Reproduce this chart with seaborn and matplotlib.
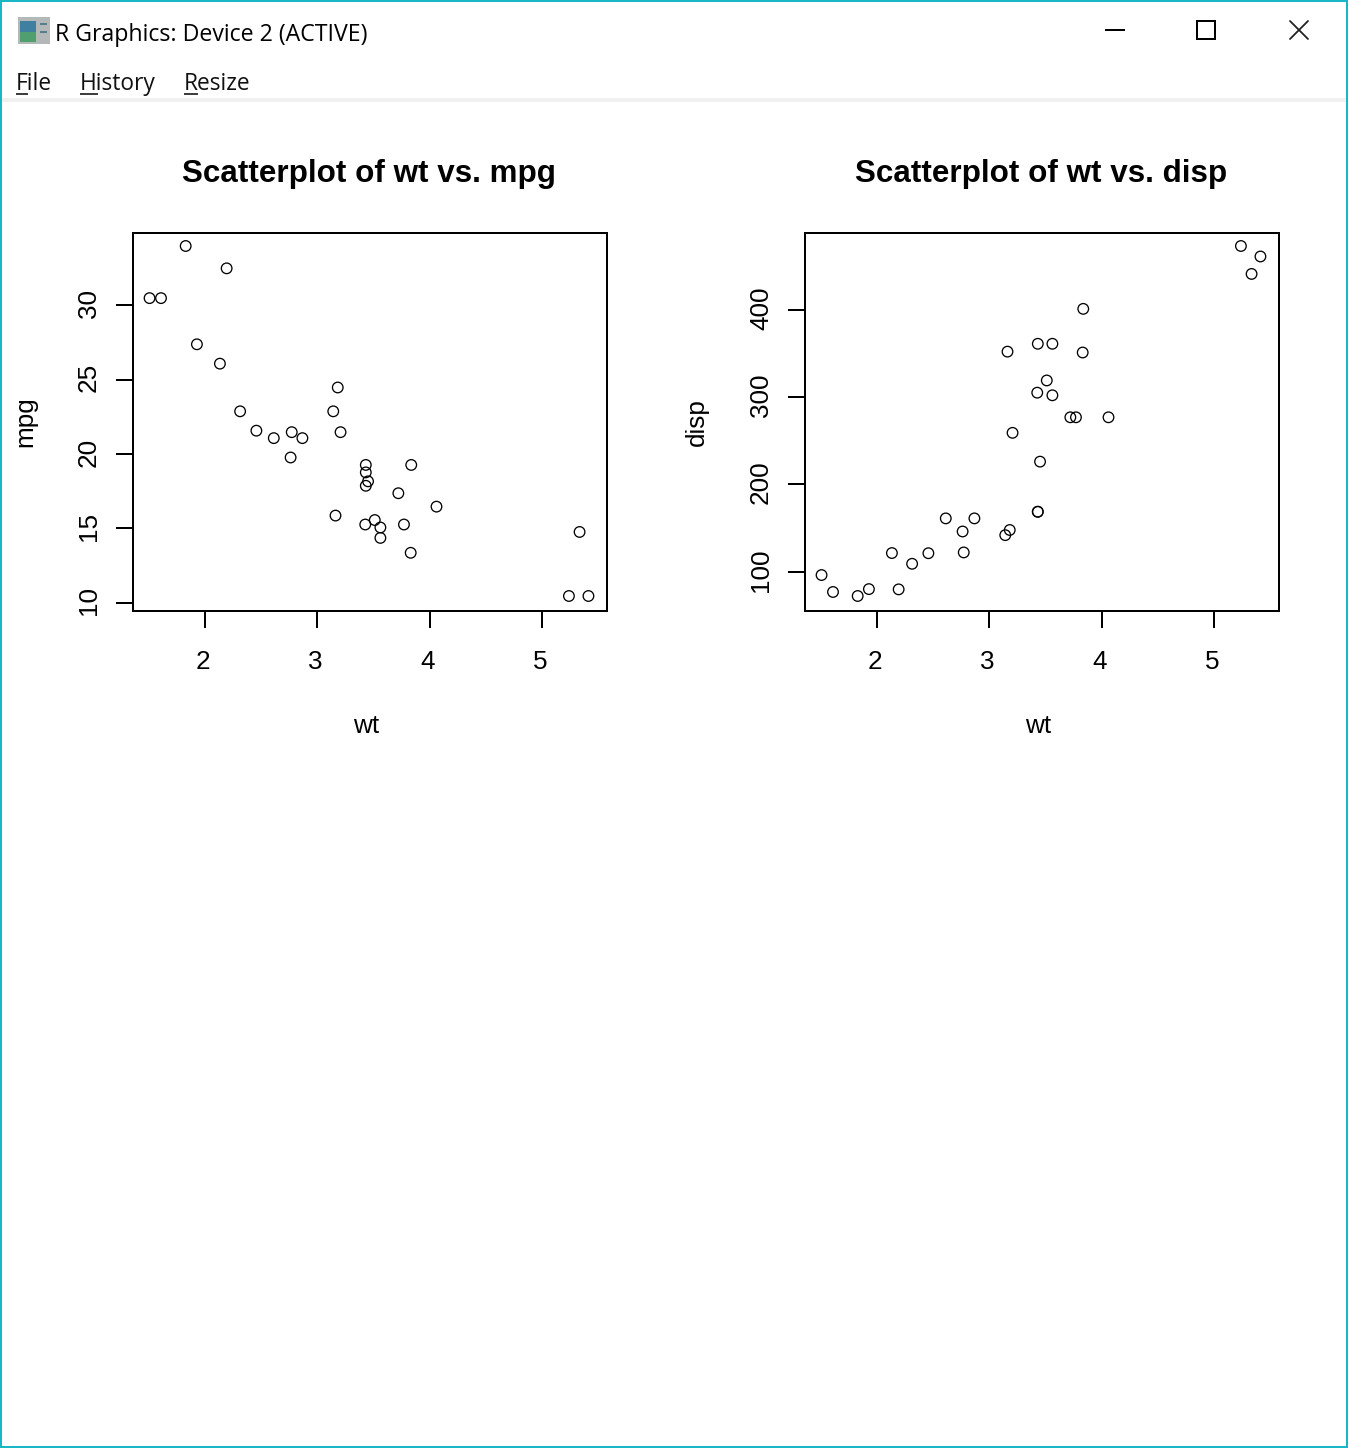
import matplotlib
matplotlib.use('Agg')
import matplotlib.pyplot as plt
from matplotlib.patches import Rectangle
from matplotlib.transforms import ScaledTranslation
import pandas as pd
import seaborn as sns

# mtcars values
wt = [2.62, 2.875, 2.32, 3.215, 3.44, 3.46, 3.57, 3.19, 3.15, 3.44, 3.44, 4.07, 3.73, 3.78, 5.25, 5.424,
      5.345, 2.2, 1.615, 1.835, 2.465, 3.52, 3.435, 3.84, 3.845, 1.935, 2.14, 1.513, 3.17, 2.77, 3.57, 2.78]
mpg = [21, 21, 22.8, 21.4, 18.7, 18.1, 14.3, 24.4, 22.8, 19.2, 17.8, 16.4, 17.3, 15.2, 10.4, 10.4,
       14.7, 32.4, 30.4, 33.9, 21.5, 15.5, 15.2, 13.3, 19.2, 27.3, 26, 30.4, 15.8, 19.7, 15, 21.4]
disp = [160, 160, 108, 258, 360, 225, 360, 146.7, 140.8, 167.6, 167.6, 275.8, 275.8, 275.8, 472, 460,
        440, 78.7, 75.7, 71.1, 120.1, 318, 304, 350, 400, 79, 120.3, 95.1, 351, 145, 301, 121]

x_ticks = [2, 3, 4, 5]
mpg_ticks = [10, 15, 20, 25, 30]
disp_ticks = [100, 200, 300, 400]

W, H = 1348, 1448
PX = 72 / 100  # one pixel in points

sns.set_theme(style='white')
plt.rcParams['font.family'] = ['Liberation Sans', 'DejaVu Sans']

df = pd.DataFrame({'wt': wt, 'mpg': mpg, 'disp': disp})


def panel_axes(fig, left, right, top, bottom):
    return fig.add_axes([left / W, 1 - bottom / H, (right - left) / W, (bottom - top) / H])


def nudge(fig, dx, dy):
    # small shift in pixels, y up
    return ScaledTranslation(dx / 100, dy / 100, fig.dpi_scale_trans)


def draw_panel(fig, ax, y_name, y_ticks, ylim, title):
    sns.scatterplot(data=df, x='wt', y=y_name, ax=ax, marker='o', s=58, facecolor='none',
                    edgecolor='black', linewidth=1.3 * PX)
    pts = ax.collections[0]
    pts.set_offset_transform(ax.transData + nudge(fig, -1, 1))

    ax.set_xlim(1.3566, 5.5804)
    ax.set_ylim(*ylim)
    ax.set_xticks(x_ticks)
    ax.set_yticks(y_ticks)
    ax.tick_params(axis='both', length=17 * PX, width=2 * PX, color='black', labelsize=18.8,
                   labelcolor='black', bottom=True, left=True)
    ax.tick_params(axis='x', pad=22 * PX)
    ax.tick_params(axis='y', pad=15 * PX)
    plt.setp(ax.get_yticklabels(), rotation=90, va='center')
    for lab in ax.get_xticklabels():
        lab.set_transform(lab.get_transform() + nudge(fig, -2, 0))
    for lab in ax.get_yticklabels():
        lab.set_transform(lab.get_transform() + nudge(fig, 0, 2))
    for s in ax.spines.values():
        s.set_color('black')
        s.set_linewidth(2 * PX)
    ax.set_xlabel('wt', fontsize=18.8, color='black', labelpad=40 * PX)
    ax.set_ylabel(y_name, fontsize=18.8, color='black', labelpad=40 * PX)
    ax.xaxis.label.set_x(233.5 / 474)
    ax.set_title(title, fontsize=22.6, fontweight='bold', color='black', pad=51 * PX, x=236 / 474)


def draw_window(fig):
    # window frame, title bar and menu around the plot device
    win = fig.add_axes([0, 0, 1, 1], zorder=5)
    win.set_xlim(0, W)
    win.set_ylim(H, 0)
    win.axis('off')
    win.patch.set_alpha(0)

    win.add_patch(Rectangle((2, 98), W - 4, 4, color='#f0f0f0', lw=0))
    win.add_patch(Rectangle((0, 0), W, H, fill=False, edgecolor='#17b7c5', lw=4 * PX))

    # app icon
    win.add_patch(Rectangle((18, 17), 32, 27, color='#b4b8b8', lw=0))
    win.add_patch(Rectangle((20, 21), 16, 11, color='#3f7f9f', lw=0))
    win.add_patch(Rectangle((20, 32), 16, 10, color='#4f9f6f', lw=0))
    win.add_patch(Rectangle((40, 23), 7, 2, color='#557f8f', lw=0))
    win.add_patch(Rectangle((40, 31), 7, 2, color='#557f8f', lw=0))

    win.text(55, 35, 'R Graphics: Device 2 (ACTIVE)', fontsize=16.7, family='Open Sans', va='center',
             ha='left', color='black')
    for label, x, ul in [('File', 16, 12), ('History', 80, 18), ('Resize', 184, 14)]:
        win.text(x, 84, label, fontsize=16.4, family='Open Sans', va='center', ha='left', color='#111111')
        win.plot([x, x + ul], [93.5, 93.5], color='black', lw=1.5 * PX, solid_capstyle='butt')

    # minimise, maximise, close
    win.plot([1105, 1125], [30, 30], color='black', lw=2 * PX, solid_capstyle='butt')
    win.add_patch(Rectangle((1197, 21), 18, 18, fill=False, edgecolor='black', lw=2 * PX))
    win.plot([1290, 1308], [21, 39], color='#222222', lw=1.8 * PX)
    win.plot([1290, 1308], [39, 21], color='#222222', lw=1.8 * PX)


def main():
    fig = plt.figure(figsize=(W / 100, H / 100), dpi=100, facecolor='white')

    ax1 = panel_axes(fig, 133, 607, 233, 611)
    draw_panel(fig, ax1, 'mpg', mpg_ticks, (9.46, 34.84), 'Scatterplot of wt vs. mpg')

    ax2 = panel_axes(fig, 805, 1279, 233, 611)
    draw_panel(fig, ax2, 'disp', disp_ticks, (55.06, 488.04), 'Scatterplot of wt vs. disp')

    draw_window(fig)
    fig.savefig('out.png', dpi=100)


if __name__ == '__main__':
    main()
